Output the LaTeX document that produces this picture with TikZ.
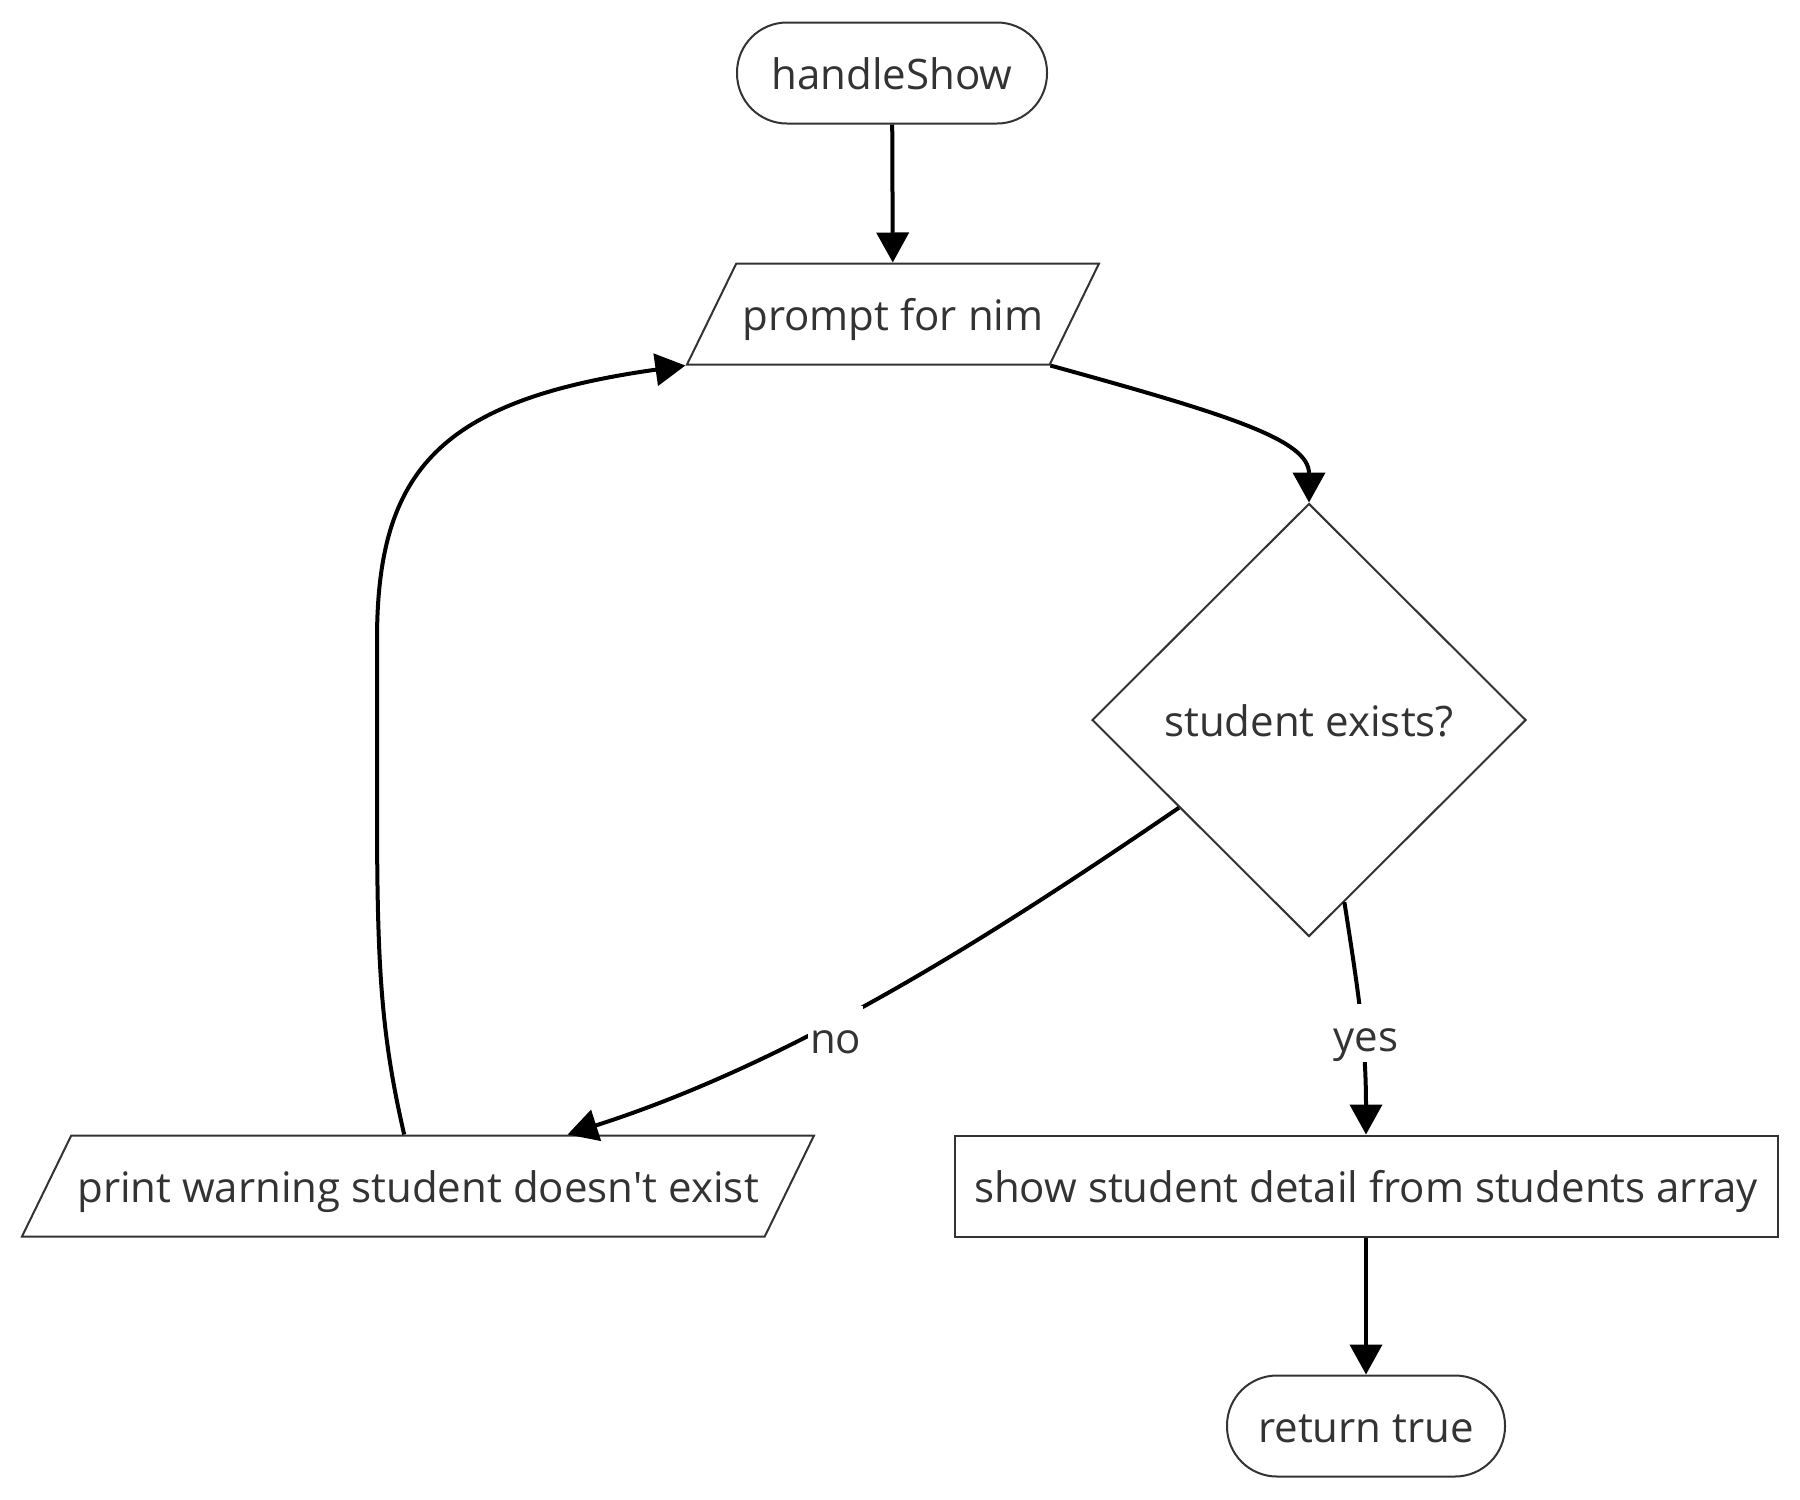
\documentclass[tikz,border=0pt]{standalone}
\usepackage{fontspec}
\setmainfont{Open Sans}
\usetikzlibrary{arrows.meta,shapes.geometric}
\definecolor{ink}{HTML}{333333}

\begin{document}
\begin{tikzpicture}[x=0.5pt, y=-0.5pt,
  every node/.style={text=ink, font=\fontsize{21}{25}\selectfont},
  box/.style={draw=ink, line width=1pt, fill=white, inner sep=0pt, text height=17pt, text depth=1pt},
  term/.style={box, rounded corners=25pt, minimum height=50.5pt},
  inout/.style={box, trapezium, trapezium left angle=64, trapezium right angle=116,
    trapezium stretches body=true, inner ysep=16.25pt},
  flow/.style={line width=2pt, -{Triangle[length=15pt,width=16pt]}},
  lbl/.style={fill=white, inner xsep=1pt, inner ysep=0pt, text height=24pt, text depth=5pt}]
\useasboundingbox (0,0) rectangle (1800,1500);
\node[term, minimum width=155pt] (start) at (892,73) {handleShow};
\node[inout, minimum width=206pt] (prompt) at (893,314) {prompt for nim};
\node[box, diamond, minimum width=217pt, minimum height=216.5pt] (check) at (1309,720) {student exists?};
\node[inout, minimum width=396pt] (warn) at (418,1186) {print warning student doesn\textquotesingle t exist};
\node[box, minimum width=411.5pt, minimum height=50.5pt] (show) at (1366,1186) {show student detail from students array};
\node[term, minimum width=139pt] (ret) at (1366,1426) {return true};
\draw[flow] (start) -- (prompt);
\draw[flow] (prompt.bottom right corner) .. controls (1230,415) and (1309,440) .. (check.north);
\draw[flow] (check.214.6) .. controls (1000,930) and (800,1060) .. node[lbl, pos=0.6, yshift=-6pt, xshift=2pt] {no} (warn.19.4);
\draw[flow] (check.-79.4) .. controls (1358,990) and (1366,1040) .. node[lbl, pos=0.58, xshift=2pt] {yes} (show.north);
\draw[flow] (warn.105.4) .. controls (380,1030) and (377,960) .. (377,800) -- (377,640)
  .. controls (377,470) and (440,400) .. (prompt.bottom left corner);
\draw[flow] (show) -- (ret);
\end{tikzpicture}
\end{document}
